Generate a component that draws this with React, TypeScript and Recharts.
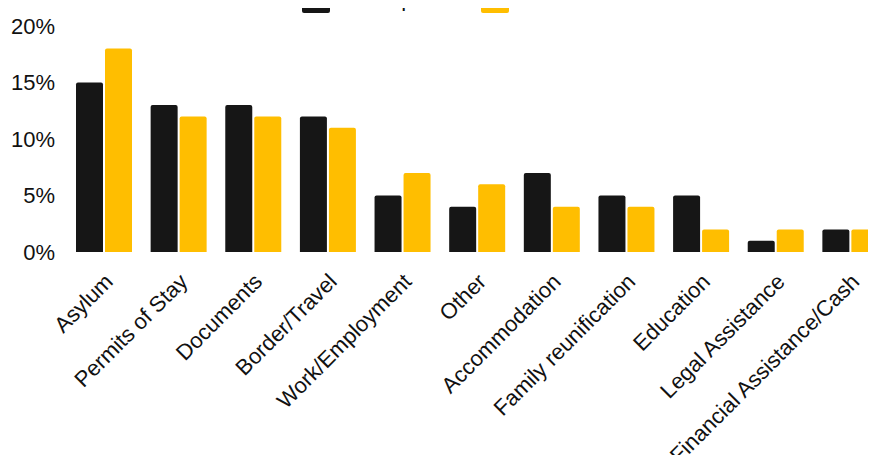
import React from 'react';
import { BarChart, Bar, XAxis, YAxis, Legend } from 'recharts';

const categories = ['Asylum', 'Permits of Stay', 'Documents', 'Border/Travel', 'Work/Employment', 'Other', 'Accommodation', 'Family reunification', 'Education', 'Legal Assistance', 'Financial Assistance/Cash'];
const julSep = [15, 13, 13, 12, 5, 4, 7, 5, 5, 1, 2];
const octDec = [18, 12, 12, 11, 7, 6, 4, 4, 2, 2, 2];
const yTicks = [0, 5, 10, 15, 20];
const seriesNames = ["Jul-Sep '24", "Oct-Dec '24"];

const data = categories.map((c, i) => ({ name: c, a: julSep[i], b: octDec[i] }));

const FONT = '"Liberation Sans", Arial, Helvetica, sans-serif';
const BLACK = '#161616';
const YELLOW = '#FFBE00';
const COLORS = [BLACK, YELLOW];

const XTick = (props: any) => {
  const { x, y, payload } = props;
  return (
    <g transform={`translate(${x + 10}, ${y + 23}) rotate(-45)`}>
      <text x={0} y={0} textAnchor="end" fontSize={22} fontFamily={FONT} fill="#111">
        {payload.value}
      </text>
    </g>
  );
};

const LegendContent = () => {
  return (
    <div style={{ position: 'absolute', left: 0, top: -15, height: 28, width: 900, fontFamily: FONT, fontSize: 22, color: '#111' }}>
      {seriesNames.map((n, i) => (
        <div key={i} style={{ position: 'absolute', left: i === 0 ? 302 : 481, top: 0, height: 28, display: 'flex', alignItems: 'center', whiteSpace: 'nowrap' }}>
          <div style={{ width: 28, height: 28, background: COLORS[i], borderRadius: 2, flexShrink: 0 }} />
          <span style={{ marginLeft: 9, lineHeight: '28px' }}>{n}</span>
        </div>
      ))}
    </div>
  );
};

export default function App() {
  return (
    <div style={{ margin: -8, width: 876, height: 463, overflow: 'hidden', position: 'relative', background: '#fff' }}>
      <BarChart width={900} height={463} data={data} margin={{ top: 26, right: 12, bottom: 0, left: 0 }} barGap={2}>
        <Legend verticalAlign="top" align="left" content={<LegendContent />} wrapperStyle={{ top: 0, left: 0, width: 900, height: 0, overflow: 'visible' }} />
        <XAxis dataKey="name" axisLine={false} tickLine={false} interval={0} height={211} tick={<XTick />} />
        <YAxis domain={[0, 20]} ticks={yTicks} axisLine={false} tickLine={false} width={67} tickMargin={6}
          tickFormatter={(v: number) => `${v}%`} tick={{ fontSize: 22, fontFamily: FONT, fill: '#111' }} />
        <Bar dataKey="a" name={seriesNames[0]} fill={BLACK} barSize={27} radius={[2, 2, 0, 0]} isAnimationActive={false} />
        <Bar dataKey="b" name={seriesNames[1]} fill={YELLOW} barSize={27} radius={[2, 2, 0, 0]} isAnimationActive={false} />
      </BarChart>
    </div>
  );
}
